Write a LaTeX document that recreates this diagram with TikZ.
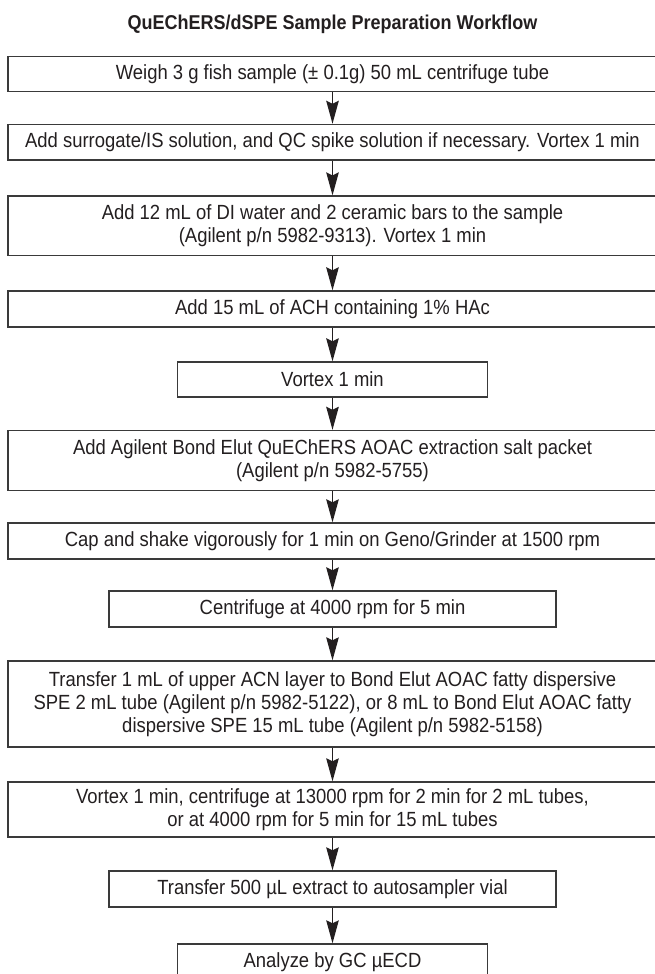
\documentclass[tikz,border=0pt]{standalone}
\usepackage{fontspec}
\setmainfont{Liberation Sans}[FakeStretch=0.9]
\usetikzlibrary{arrows.meta}
\definecolor{ink}{HTML}{231F20}
\definecolor{edge}{HTML}{3A3A3A}
\begin{document}
\begin{tikzpicture}[x=1pt,y=1pt,
  stepbox/.style={draw=edge, line width=1.3pt, text=ink, align=center,
    inner sep=0pt, font=\fontsize{20.5}{23.3}\selectfont},
  wide/.style={minimum width=649pt},
  mid/.style={minimum width=447pt},
  narrow/.style={minimum width=309.6pt},
  arr/.style={draw=ink, line width=1.6pt, -{Stealth[length=23pt,width=12.5pt,inset=3pt]}},
  titletext/.style={text=ink, inner sep=0pt, anchor=base, font=\fontsize{20}{24}\selectfont\bfseries}
]
\useasboundingbox (0,0) rectangle (654,-974);
\fill[white] (0,0) rectangle (654,-974);
\node[titletext] (title) at (332.5,-29.3) {QuEChERS/dSPE Sample Preparation Workflow};
\node[stepbox, wide, minimum height=34.8pt] (n1) at (332.5,-74.1) {Weigh 3 g fish sample (± 0.1g) 50 mL centrifuge tube};
\node[stepbox, wide, minimum height=35.5pt] (n2) at (332.5,-142.2) {Add surrogate/IS solution, and QC spike solution if necessary. Vortex 1 min};
\node[stepbox, wide, minimum height=59.5pt] (n3) at (332.5,-225.8) {Add 12 mL of DI water and 2 ceramic bars to the sample\\(Agilent p/n 5982-9313). Vortex 1 min};
\node[stepbox, wide, minimum height=36pt] (n4) at (332.5,-309) {Add 15 mL of ACH containing 1\% HAc};
\node[stepbox, narrow, minimum height=35pt] (n5) at (332.5,-379.5) {Vortex 1 min};
\node[stepbox, wide, minimum height=60pt] (n6) at (332.5,-460.5) {Add Agilent Bond Elut QuEChERS AOAC extraction salt packet\\(Agilent p/n 5982-5755)};
\node[stepbox, wide, minimum height=36pt] (n7) at (332.5,-541) {Cap and shake vigorously for 1 min on Geno/Grinder at 1500 rpm};
\node[stepbox, mid, minimum height=36pt] (n8) at (332.5,-609) {Centrifuge at 4000 rpm for 5 min};
\node[stepbox, wide, minimum height=86pt] (n9) at (332.5,-704) {Transfer 1 mL of upper ACN layer to Bond Elut AOAC fatty dispersive\\SPE 2 mL tube (Agilent p/n 5982-5122), or 8 mL to Bond Elut AOAC fatty\\dispersive SPE 15 mL tube (Agilent p/n 5982-5158)};
\node[stepbox, wide, minimum height=55pt] (n10) at (332.5,-809.5) {Vortex 1 min, centrifuge at 13000 rpm for 2 min for 2 mL tubes,\\or at 4000 rpm for 5 min for 15 mL tubes};
\node[stepbox, mid, minimum height=36pt] (n11) at (332.5,-889) {Transfer 500 µL extract to autosampler vial};
\node[stepbox, narrow, minimum height=36pt] (n12) at (332.5,-962) {Analyze by GC µECD};
\foreach \a/\b in {n1/n2,n2/n3,n3/n4,n4/n5,n5/n6,n6/n7,n7/n8,n8/n9,n9/n10,n10/n11,n11/n12}
  \draw[arr] (\a) -- (\b);
\end{tikzpicture}
\end{document}
